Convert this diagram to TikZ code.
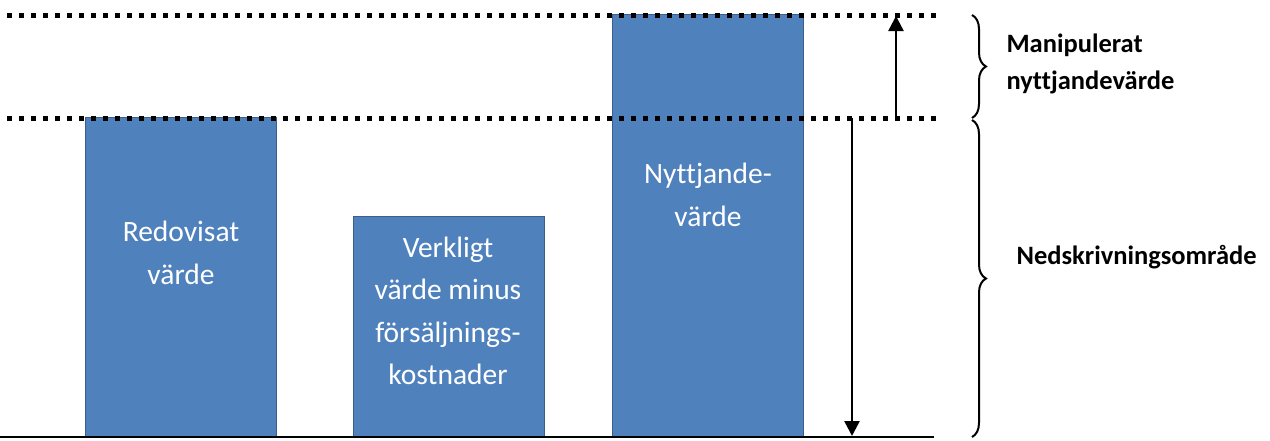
\documentclass[tikz,border=0pt]{standalone}
\usepackage{fontspec}
\setmainfont{Carlito}[Ligatures=NoCommon]
\usetikzlibrary{arrows.meta,decorations.pathreplacing}
\definecolor{barblue}{HTML}{4F81BD}
\definecolor{baredge}{HTML}{3A5F8B}
\tikzset{
  bar/.style={draw=baredge, line width=1pt, fill=barblue, anchor=south west, inner sep=0pt},
  bartext/.style={text=white, align=center, font=\fontsize{29.5}{42.5}\selectfont},
  levelline/.style={line width=5pt, dash pattern=on 5pt off 7pt},
  arrowline/.style={line width=2.5pt, -{Triangle[width=15pt,length=15pt]}},
  bracestyle/.style={line width=2pt, decorate, decoration={brace, amplitude=14pt}},
  sidelabel/.style={font=\bfseries\fontsize{26.5}{37}\selectfont, align=left, anchor=west}
}
\begin{document}
\begin{tikzpicture}[x=1pt,y=-1pt]
  \useasboundingbox (0,0) rectangle (1270,440);

  % bars
  \node[bar, minimum width=191pt, minimum height=319pt] (b1) at (85,437) {};
  \node[bar, minimum width=191pt, minimum height=220pt] (b2) at (353,437) {};
  \node[bar, minimum width=191pt, minimum height=422pt] (b3) at (612,437) {};

  % bar captions
  \node[bartext] (t1) at (181,253) {Redovisat\\värde};
  \node[bartext] (t2) at (448,311) {Verkligt\\värde minus\\försäljnings-\\kostnader};
  \node[bartext] (t3) at (708,195) {Nyttjande-\\värde};

  % level lines and base line
  \coordinate (topL) at (7,15);
  \coordinate (topR) at (940,15);
  \coordinate (midL) at (7,118);
  \coordinate (midR) at (940,118);
  \coordinate (baseL) at (0,437);
  \coordinate (baseR) at (934,437);
  \draw[levelline] (topL) -- (topR);
  \draw[levelline] (midL) -- (midR);
  \draw[line width=2.5pt] (baseL) -- (baseR);

  % arrows
  \coordinate (upS) at (896,118);
  \coordinate (upE) at (896,16);
  \coordinate (dnS) at (852,118);
  \coordinate (dnE) at (852,436);
  \draw[arrowline] (upS) -- (upE);
  \draw[arrowline] (dnS) -- (dnE);

  % braces
  \coordinate (br1a) at (972,15);
  \coordinate (br1b) at (972,118);
  \coordinate (br2a) at (972,120);
  \coordinate (br2b) at (972,437);
  \draw[bracestyle] (br1a) -- (br1b);
  \draw[bracestyle] (br2a) -- (br2b);

  % labels
  \node[sidelabel] (l1) at (1003,64) {Manipulerat\\nyttjandevärde};
  \node[sidelabel] (l2) at (1013,257) {Nedskrivningsområde};
\end{tikzpicture}
\end{document}
